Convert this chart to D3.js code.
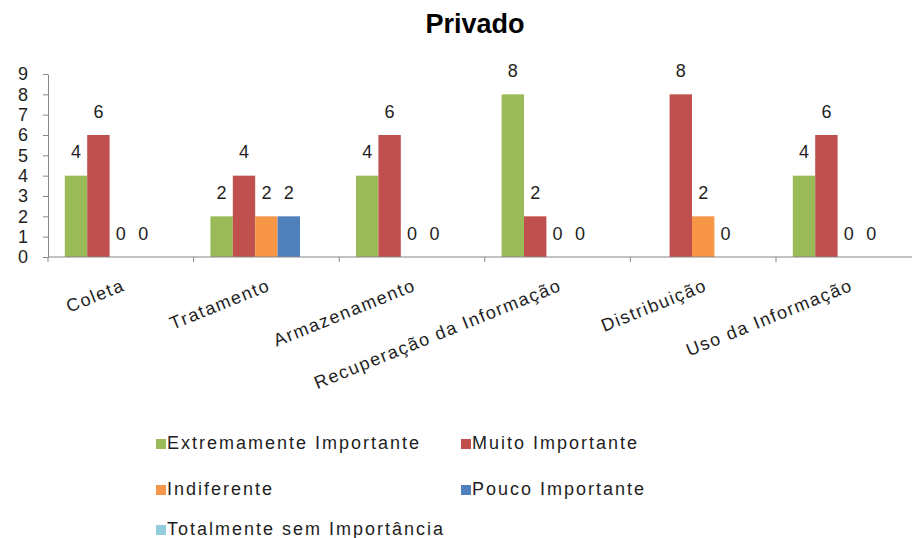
<!DOCTYPE html>
<html>
<head>
<meta charset="utf-8">
<script src="https://cdn.jsdelivr.net/npm/d3@7"></script>
<style>
  html, body { margin: 0; padding: 0; background: #fff; }
  svg { display: block; font-family: "Liberation Sans", Arial, sans-serif; }
</style>
</head>
<body>
<svg id="chart" width="912" height="538"></svg>
<script>
// Survey results: importance of each information-management stage (private sector)
const categories = ["Coleta", "Tratamento", "Armazenamento", "Recuperação da Informação", "Distribuição", "Uso da Informação"];
const seriesNames = ["Extremamente Importante", "Muito Importante", "Indiferente", "Pouco Importante", "Totalmente sem Importância"];
const extremamente = [4, 2, 4, 8, null, 4];
const muito = [6, 4, 6, 2, 8, 6];
const indiferente = [0, 2, 0, 0, 2, 0];
const pouco = [0, 2, 0, 0, 0, 0];
const totalmente = [null, null, null, null, null, null];
const yTicks = [0, 1, 2, 3, 4, 5, 6, 7, 8, 9];
const colors = ["#9BBB59", "#C0504D", "#F79646", "#4F81BD", "#93CDDD"];
const chartTitle = "Privado";

const seriesValues = [extremamente, muito, indiferente, pouco, totalmente];
const rows = [];
categories.forEach((c, i) => {
  seriesNames.forEach((s, j) => {
    rows.push({ cat: c, series: s, value: seriesValues[j][i], color: colors[j] });
  });
});

const svg = d3.select("#chart");
const plotLeft = 48, plotRight = 921.6, plotTop = 74, plotBottom = 257;
const textColor = "#1e1e1e";
const axisColor = "#878787";

const x0 = d3.scaleBand().domain(categories).range([plotLeft, plotRight]).paddingInner(0).paddingOuter(0);
const x1 = d3.scaleBand().domain(seriesNames).range([0, x0.bandwidth()]).paddingInner(0).paddingOuter(0.75);
const y = d3.scaleLinear().domain([0, 9]).range([plotBottom, plotTop]);

// Title
svg.append("text")
  .attr("x", 475).attr("y", 33)
  .attr("text-anchor", "middle")
  .attr("font-size", 27).attr("font-weight", "bold")
  .attr("fill", "#000")
  .text(chartTitle);

// Bars
svg.append("g").selectAll("rect")
  .data(rows.filter(d => d.value !== null))
  .join("rect")
  .attr("x", d => x0(d.cat) + x1(d.series))
  .attr("width", x1.bandwidth())
  .attr("y", d => y(d.value))
  .attr("height", d => y(0) - y(d.value))
  .attr("fill", d => d.color);

// Value labels
svg.append("g").selectAll("text")
  .data(rows.filter(d => d.value !== null))
  .join("text")
  .attr("x", d => x0(d.cat) + x1(d.series) + x1.bandwidth() / 2)
  .attr("y", d => y(d.value) - 17.5)
  .attr("text-anchor", "middle")
  .attr("font-size", 18)
  .attr("fill", textColor)
  .text(d => d.value);

// Y axis
const yAxis = svg.append("g")
  .attr("transform", `translate(${plotLeft},0)`)
  .call(d3.axisLeft(y).tickValues(yTicks).tickSize(5).tickPadding(15).tickSizeOuter(0));
yAxis.select(".domain").attr("stroke", axisColor);
yAxis.selectAll(".tick line").attr("stroke", axisColor);
yAxis.selectAll(".tick text")
  .attr("font-size", 18)
  .attr("font-family", "'Liberation Sans', Arial, sans-serif")
  .attr("fill", textColor);

// X axis: line with tick marks on category boundaries
const xAxis = svg.append("g").attr("transform", `translate(0,${plotBottom})`);
xAxis.append("line")
  .attr("x1", plotLeft).attr("x2", plotRight)
  .attr("stroke", axisColor);
const boundaries = categories.map(c => x0(c)).concat([x0(categories[categories.length - 1]) + x0.bandwidth()]);
xAxis.selectAll("line.tk")
  .data(boundaries)
  .join("line")
  .attr("class", "tk")
  .attr("x1", d => d).attr("x2", d => d)
  .attr("y1", 0).attr("y2", 5)
  .attr("stroke", axisColor);

// Category labels, rotated
svg.append("g").selectAll("text")
  .data(categories)
  .join("text")
  .attr("transform", d => `translate(${x0(d) + x0.bandwidth() / 2 + 5},290) rotate(-22)`)
  .attr("text-anchor", "end")
  .attr("font-size", 18)
  .attr("letter-spacing", 1.5)
  .attr("fill", textColor)
  .text(d => d);

// Legend
const legendPos = [
  { x: 156, y: 449 },
  { x: 461, y: 449 },
  { x: 156, y: 495 },
  { x: 461, y: 495 },
  { x: 156, y: 535 }
];
const legend = svg.append("g").selectAll("g")
  .data(seriesNames)
  .join("g")
  .attr("transform", (d, i) => `translate(${legendPos[i].x},${legendPos[i].y})`);
legend.append("rect")
  .attr("x", 0).attr("y", -10)
  .attr("width", 10).attr("height", 10)
  .attr("fill", (d, i) => colors[i]);
legend.append("text")
  .attr("x", 11).attr("y", 0)
  .attr("font-size", 18)
  .attr("letter-spacing", 2)
  .attr("fill", textColor)
  .text(d => d);
</script>
</body>
</html>
